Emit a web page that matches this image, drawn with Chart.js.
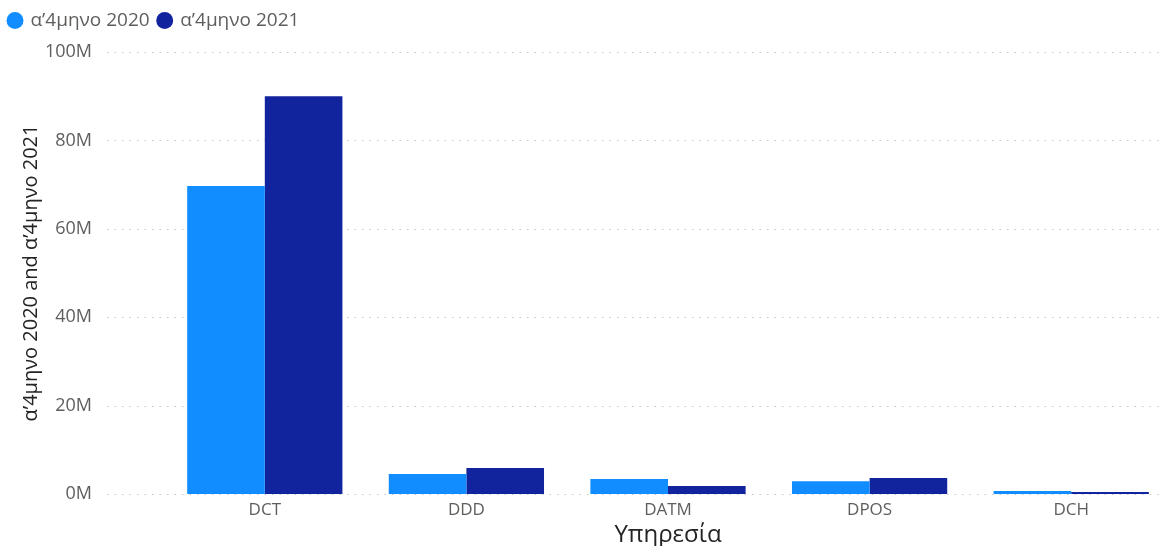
<!DOCTYPE html>
<html><head><meta charset="utf-8">
<script src="https://cdn.jsdelivr.net/npm/chart.js@4"></script>
<style>html,body{margin:0;padding:0;overflow:hidden;background:#fff}canvas{position:absolute;left:0;top:0}</style>
</head><body><canvas id="c" width="1172" height="546" style="width:1172px;height:546px"></canvas>
<script>
const categories = ["DCT", "DDD", "DATM", "DPOS", "DCH"];
const series2020 = [69.7e6, 4.5e6, 3.4e6, 2.9e6, 0.7e6];
const series2021 = [90.0e6, 5.9e6, 1.8e6, 3.6e6, 0.45e6];
const seriesNames = ["α’4μηνο 2020", "α’4μηνο 2021"];
const yTicks = [0, 20e6, 40e6, 60e6, 80e6, 100e6];
const FONT = "'Open Sans','Noto Sans',sans-serif";

const dottedGrid = {
  id: 'dottedGrid',
  beforeDatasetsDraw(chart) {
    const ctx = chart.ctx, y = chart.scales.y;
    ctx.save();
    ctx.strokeStyle = '#C8C6C4';
    ctx.lineWidth = 1;
    ctx.setLineDash([1.5, 6]);
    yTicks.forEach(v => {
      const py = Math.round(y.getPixelForValue(v)) + 0.5;
      ctx.beginPath(); ctx.moveTo(107, py); ctx.lineTo(chart.width, py); ctx.stroke();
    });
    ctx.restore();
  }
};

const legendTop = {
  id: 'legendTop',
  afterLayout(chart) {
    const L = chart.legend;
    if (L) { const d = L.top - 2; L.top -= d; L.bottom -= d; }
  }
};

new Chart(document.getElementById('c'), {
  type: 'bar',
  data: {
    labels: categories,
    datasets: [
      { label: seriesNames[0], data: series2020, backgroundColor: '#118DFF', categoryPercentage: 0.77, barPercentage: 1.0 },
      { label: seriesNames[1], data: series2021, backgroundColor: '#12239E', categoryPercentage: 0.77, barPercentage: 1.0 }
    ]
  },
  options: {
    responsive: false, animation: false, devicePixelRatio: 1,
    layout: { padding: { left: 0, right: 0, top: 0, bottom: 0 } },
    plugins: {
      tooltip: { enabled: false },
      legend: {
        position: 'top', align: 'start',
        labels: { usePointStyle: true, pointStyle: 'circle', boxWidth: 12, boxHeight: 12, padding: 9,
          color: '#605E5C', font: { family: FONT, size: 19 } }
      }
    },
    scales: {
      x: {
        afterFit: s => { s.height = 52; },
        grid: { display: false, drawTicks: false }, border: { display: false },
        ticks: { color: '#605E5C', font: { family: FONT, size: 17 }, padding: 6 },
        title: { display: true, text: 'Υπηρεσία', color: '#252423', font: { family: FONT, size: 24 }, padding: { top: 0, bottom: -4 } }
      },
      y: {
        min: 0, max: 100e6,
        afterBuildTicks: s => { s.ticks = yTicks.map(v => ({ value: v })); },
        afterFit: s => { s.width = 164; s.paddingTop = 52; s.paddingBottom = 52; },
        grid: { display: false, drawTicks: false }, border: { display: false },
        ticks: { color: '#605E5C', font: { family: FONT, size: 18 }, padding: 72,
          callback: v => (v / 1e6) + 'M' },
        title: { display: true, text: 'α’4μηνο 2020 and α’4μηνο 2021', color: '#252423', font: { family: FONT, size: 20 }, padding: { top: 19, bottom: 0 } }
      }
    }
  },
  plugins: [dottedGrid, legendTop]
});
</script></body></html>
